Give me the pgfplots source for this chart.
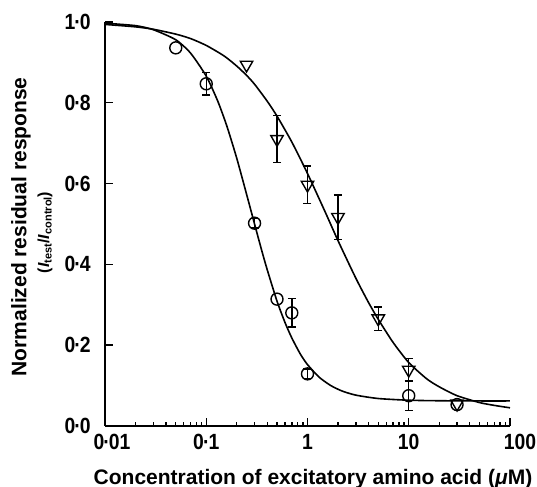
\documentclass[border=0pt]{standalone}
\usepackage{graphicx}
\usepackage{pgfplots}
\pgfplotsset{compat=1.18}
\usepackage{fontspec}
\setmainfont{Liberation Sans}
\newcommand{\cd}{\kern-0.05em·\kern-0.05em}
\newcommand{\nl}[1]{\scalebox{0.88}[1]{#1}}
\begin{document}
\begin{tikzpicture}[x=1pt,y=1pt]
\useasboundingbox (0,0) rectangle (268.5,243.5);
\begin{axis}[
  at={(52.5pt,30.5pt)}, anchor=south west,
  scale only axis, width=202.5pt, height=202pt,
  xmode=log, xmin=0.01, xmax=100, ymin=0, ymax=1,
  axis x line=bottom, axis y line=left,
  axis line style={-, line width=0.9pt},
  tick align=inside, major tick length=4pt, minor tick length=2pt,
  tick style={line width=0.7pt, black},
  xtick={0.01,0.1,1,10,100},
  xticklabels={{\hspace{7pt}\nl{0\cd 01}},\nl{0\cd 1},\nl{1},\nl{10},{\hspace{10pt}\nl{100}}},
  ytick={0,0.2,0.4,0.6,0.8,1},
  yticklabels={{\nl{0\cd 0}\hspace{-6pt}},\nl{0\cd 2},\nl{0\cd 4},\nl{0\cd 6},\nl{0\cd 8},\nl{1\cd 0}},
  tick label style={font=\bfseries\fontsize{11}{12}\selectfont},
  xticklabel style={anchor=north, inner ysep=0pt, yshift=-4pt},
  yticklabel style={anchor=east, inner xsep=0pt, xshift=-7pt},
  xlabel={Concentration of excitatory amino acid (\textit{μ}M)},
  ylabel={Normalized residual response},
  xlabel style={at={(rel axis cs:0.5136,-0.1436)}, anchor=base, font=\bfseries\fontsize{10.5}{12}\selectfont},
  ylabel style={at={(rel axis cs:-0.2074,0.493)}, anchor=center, font=\bfseries\fontsize{10.5}{12}\selectfont},
  clip=false,
]
\node[rotate=90, anchor=center, font=\bfseries\fontsize{8}{9}\selectfont, inner sep=0pt]
  at (rel axis cs:-0.148,0.479) {(\textit{I}{\fontsize{5.5}{6}\selectfont\raisebox{-1.2pt}{test}}/\textit{I}{\fontsize{5.5}{6}\selectfont\raisebox{-1.2pt}{control}})};
% circle fit curve
\addplot[black, line width=0.8pt, smooth, tension=0.4] coordinates {
(0.01,0.997) (0.02,0.991) (0.03,0.981) (0.05,0.956) (0.07,0.923) (0.1,0.866)
(0.13,0.804) (0.16,0.742) (0.2,0.663) (0.25,0.574) (0.3,0.500) (0.35,0.438)
(0.4,0.387) (0.5,0.309) (0.6,0.256) (0.7,0.218) (0.85,0.178) (1,0.152)
(1.3,0.121) (1.7,0.100) (2.2,0.0865) (3,0.0764) (5,0.068) (10,0.0638)
(20,0.0625) (50,0.062) (100,0.062)
};
% triangle fit curve
\addplot[black, line width=0.8pt, smooth, tension=0.4] coordinates {
(0.01,0.994) (0.02,0.988) (0.03,0.982) (0.05,0.970) (0.07,0.959) (0.1,0.942)
(0.15,0.916) (0.2,0.891) (0.25,0.868) (0.3,0.846) (0.4,0.804) (0.5,0.767)
(0.7,0.703) (1,0.625) (1.5,0.529) (2,0.459) (3,0.366) (4,0.306) (5,0.264)
(7,0.207) (10,0.157) (15,0.117) (20,0.097) (30,0.075) (50,0.058) (70,0.051) (100,0.045)
};
% circles without error bars
\addplot[black, only marks, mark=o, mark size=3pt, mark options={line width=0.7pt}] coordinates {
(0.05,0.936) (0.5,0.314) (30,0.053)
};
% circles with error bars
\addplot[black, only marks, mark=o, mark size=3pt, mark options={line width=0.7pt},
  error bars/.cd, y dir=both, y explicit, error mark=-,
  error bar style={line width=0.7pt},
  error mark options={line width=0.7pt, mark size=2pt, rotate=90}] coordinates {
(0.1,0.847) +- (0,0.028)
(0.3,0.502) +- (0,0.012)
(0.7,0.28) +- (0,0.035)
(1,0.129) +- (0,0.012)
(10,0.075) +- (0,0.036)
};
% triangles without error bars
\addplot[black, only marks, mark=triangle, mark size=3.6pt, mark options={line width=0.7pt, rotate=180}] coordinates {
(0.25,0.894) (30,0.055)
};
% triangles with error bars
\addplot[black, only marks, mark=triangle, mark size=3.6pt, mark options={line width=0.7pt, rotate=180},
  error bars/.cd, y dir=both, y explicit, error mark=-,
  error bar style={line width=0.7pt},
  error mark options={line width=0.7pt, mark size=2pt, rotate=90}] coordinates {
(0.5,0.71) +- (0,0.058)
(1,0.597) +- (0,0.047)
(2,0.517) +- (0,0.055)
(5,0.266) +- (0,0.029)
(10,0.139) +- (0,0.028)
};
\end{axis}
\end{tikzpicture}
\end{document}
